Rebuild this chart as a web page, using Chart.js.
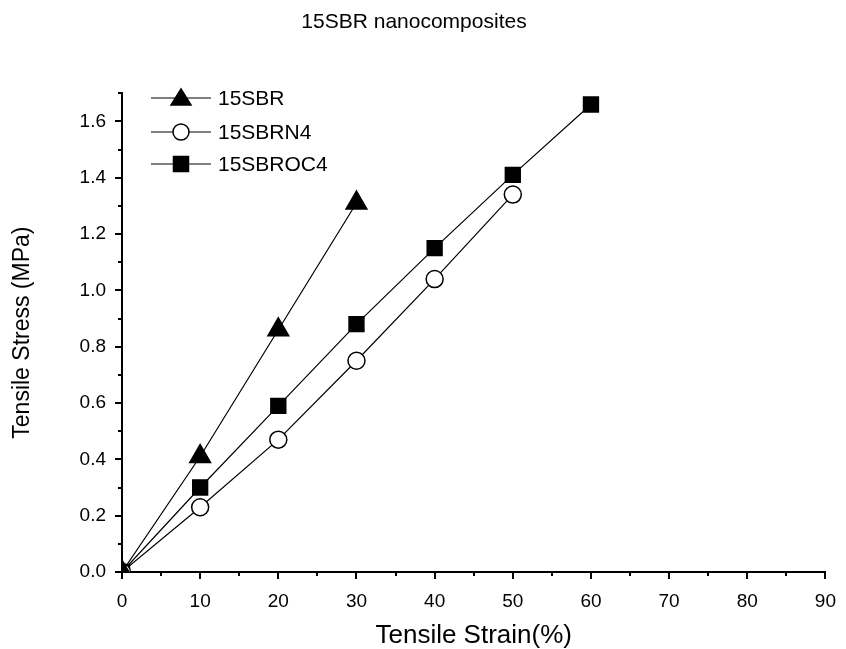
<!DOCTYPE html>
<html>
<head>
<meta charset="utf-8">
<script src="https://cdn.jsdelivr.net/npm/chart.js@4/dist/chart.umd.min.js"></script>
<style>
  html, body { margin: 0; padding: 0; background: #fff; }
  #wrap { width: 846px; height: 649px; }
</style>
</head>
<body>
<div id="wrap"><canvas id="c" width="846" height="649"></canvas></div>
<script>
// data
const strain = [0, 10, 20, 30, 40, 50, 60];
const sbr = [0, 0.41, 0.86, 1.31];
const sbrN4 = [0, 0.23, 0.47, 0.75, 1.04, 1.34];
const sbrOC4 = [0, 0.30, 0.59, 0.88, 1.15, 1.41, 1.66];
const seriesNames = ['15SBR', '15SBRN4', '15SBROC4'];
const xTicks = [0, 10, 20, 30, 40, 50, 60, 70, 80, 90];
const yTicks = [0, 0.2, 0.4, 0.6, 0.8, 1.0, 1.2, 1.4, 1.6];

const FONT = "'Liberation Sans', Arial, sans-serif";

function pts(vals) {
  return vals.map((v, i) => ({ x: strain[i], y: v }));
}

// small marker drawer for the legend
function marker(ctx, style, x, y, fill) {
  ctx.fillStyle = fill;
  ctx.strokeStyle = '#000';
  ctx.lineWidth = 1.5;
  ctx.beginPath();
  if (style === 'triangle') {
    ctx.moveTo(x, y - 9);
    ctx.lineTo(x + 10, y + 7);
    ctx.lineTo(x - 10, y + 7);
    ctx.closePath();
  } else if (style === 'circle') {
    ctx.arc(x, y, 8, 0, Math.PI * 2);
  } else {
    ctx.rect(x - 7.5, y - 7.5, 15, 15);
  }
  ctx.fill();
  ctx.stroke();
}

// legend with the line through the marker, top-left inside the plot
const legendPlugin = {
  id: 'lineLegend',
  afterDraw(chart) {
    const ctx = chart.ctx;
    const rows = [98, 132, 164];
    chart.data.datasets.forEach((ds, i) => {
      const y = rows[i];
      ctx.save();
      ctx.strokeStyle = '#000';
      ctx.lineWidth = 1;
      ctx.beginPath();
      ctx.moveTo(151, y);
      ctx.lineTo(211, y);
      ctx.stroke();
      marker(ctx, ds.pointStyle, 181, y, ds.pointBackgroundColor);
      ctx.fillStyle = '#000';
      ctx.font = '21px ' + FONT;
      ctx.textBaseline = 'middle';
      ctx.textAlign = 'left';
      ctx.fillText(ds.label, 218, y + 1);
      ctx.restore();
    });
  }
};

// major + minor tick marks drawn outward
const tickPlugin = {
  id: 'minorTicks',
  afterDraw(chart) {
    const ctx = chart.ctx;
    const xs = chart.scales.x, ys = chart.scales.y;
    const area = chart.chartArea;
    ctx.save();
    ctx.strokeStyle = '#000';
    ctx.lineWidth = 2;
    ctx.beginPath();
    for (let v = 0; v <= 90; v += 5) {
      const px = Math.round(xs.getPixelForValue(v));
      const len = v % 10 === 0 ? 7 : 4;
      ctx.moveTo(px, area.bottom);
      ctx.lineTo(px, area.bottom + len);
    }
    for (let k = 0; k <= 17; k++) {
      const py = Math.round(ys.getPixelForValue(k / 10));
      const len = k % 2 === 0 ? 7 : 4;
      ctx.moveTo(area.left, py);
      ctx.lineTo(area.left - len, py);
    }
    ctx.stroke();
    ctx.restore();
  }
};

const common = {
  borderColor: '#000',
  borderWidth: 1.2,
  pointBorderColor: '#000',
  pointBorderWidth: 1.5,
  showLine: true,
  tension: 0
};

new Chart(document.getElementById('c'), {
  type: 'scatter',
  data: {
    datasets: [
      Object.assign({}, common, {
        label: seriesNames[0], data: pts(sbr),
        pointStyle: 'triangle', pointRadius: 12, pointBackgroundColor: '#000'
      }),
      Object.assign({}, common, {
        label: seriesNames[1], data: pts(sbrN4),
        pointStyle: 'circle', pointRadius: 8.5, pointBackgroundColor: '#fff'
      }),
      Object.assign({}, common, {
        label: seriesNames[2], data: pts(sbrOC4),
        pointStyle: 'rect', pointRadius: 10.5, pointBackgroundColor: '#000'
      })
    ]
  },
  options: {
    responsive: false,
    animation: false,
    layout: { padding: { top: 0, right: 18, bottom: 0, left: 0 } },
    plugins: {
      legend: { display: false },
      tooltip: { enabled: false },
      title: {
        display: true,
        text: '15SBR nanocomposites',
        color: '#000',
        font: { family: FONT, size: 21, weight: 'normal' },
        padding: { top: 10, bottom: 58 }
      }
    },
    scales: {
      x: {
        type: 'linear',
        min: 0, max: 90,
        afterBuildTicks: (s) => { s.ticks = xTicks.map(v => ({ value: v })); },
        afterFit: (s) => { s.height = 77; },
        grid: { display: false },
        border: { display: true, color: '#000', width: 2 },
        ticks: { color: '#000', padding: 10, font: { family: FONT, size: 19 } },
        title: {
          display: true, text: 'Tensile Strain(%)', color: '#000',
          font: { family: FONT, size: 26, lineHeight: 1 }, padding: { top: 4, bottom: 0 }
        }
      },
      y: {
        type: 'linear',
        min: 0, max: 1.7,
        afterBuildTicks: (s) => { s.ticks = yTicks.map(v => ({ value: v })); },
        afterFit: (s) => { s.width = 122; },
        grid: { display: false },
        border: { display: true, color: '#000', width: 2 },
        ticks: {
          color: '#000', padding: 8, font: { family: FONT, size: 19 },
          callback: (v) => Number(v).toFixed(1)
        },
        title: {
          display: true, text: 'Tensile Stress (MPa)', color: '#000',
          font: { family: FONT, size: 23, lineHeight: 1 }, padding: { top: 11, bottom: 4 }
        }
      }
    }
  },
  plugins: [tickPlugin, legendPlugin]
});
</script>
</body>
</html>
